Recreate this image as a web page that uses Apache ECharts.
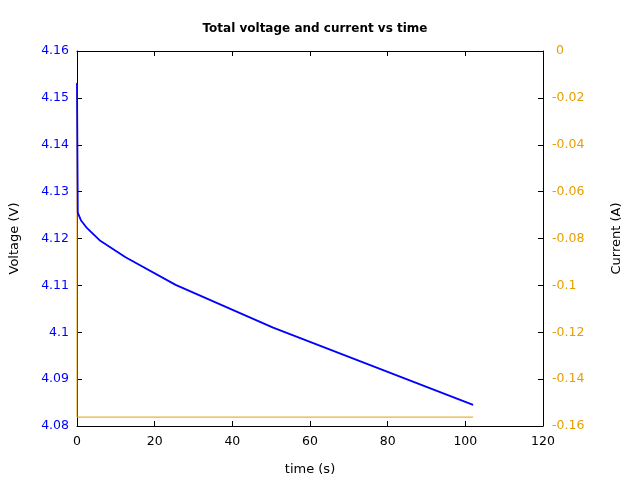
<!DOCTYPE html>
<html><head><meta charset="utf-8">
<script src="https://cdn.jsdelivr.net/npm/echarts@6/dist/echarts.min.js"></script>
<style>html,body{margin:0;padding:0;background:#fff}#c{width:640px;height:480px}</style>
</head><body><div id="c"></div>
<script>
const timeV = [0, 0.2, 1, 2.6, 6, 12.5, 25.4, 50.5, 102];
const voltage = [4.1532, 4.1255, 4.1239, 4.1222, 4.1195, 4.1160, 4.1101, 4.1010, 4.0845];
const timeI = [0, 0, 102];
const current = [-0.0137, -0.1562, -0.1562];
const xTicks = [0, 20, 40, 60, 80, 100, 120];

const font = 'DejaVu Sans';
const tickStyle = {show: true, inside: true, length: 5, lineStyle: {color: '#000', width: 1}};
const lineStyle = {show: true, onZero: false, lineStyle: {color: '#000', width: 1}};
const chart = echarts.init(document.getElementById('c'), null, {renderer: 'canvas'});
chart.setOption({
  animation: false,
  title: {
    text: 'Total voltage and current vs time',
    left: 310, top: 18, textAlign: 'center',
    textStyle: {fontFamily: font, fontSize: 12, fontWeight: 'bold', color: '#000'}
  },
  grid: {left: 77, right: 97, top: 51, bottom: 54, containLabel: false, outerBoundsMode: 'none'},
  xAxis: [{
    type: 'value', position: 'bottom', min: xTicks[0], max: xTicks[xTicks.length - 1], interval: 20,
    name: 'time (s)', nameLocation: 'middle', nameGap: 37,
    nameTextStyle: {fontFamily: font, fontSize: 13, color: '#000'},
    axisLine: lineStyle, axisTick: tickStyle,
    axisLabel: {fontFamily: font, fontSize: 12.5, color: '#000', margin: 9},
    splitLine: {show: false}
  }, {
    type: 'value', position: 'top', min: 0, max: 120, interval: 20,
    axisLine: lineStyle, axisTick: tickStyle,
    axisLabel: {show: false}, splitLine: {show: false}
  }],
  yAxis: [{
    type: 'value', position: 'left', min: 4.08, max: 4.16, interval: 0.01,
    name: 'Voltage (V)', nameLocation: 'middle', nameGap: 56,
    nameTextStyle: {fontFamily: font, fontSize: 13, color: '#000'},
    axisLine: lineStyle, axisTick: tickStyle,
    axisLabel: {fontFamily: font, fontSize: 12.5, color: '#0000ff', margin: 8, padding: [3, 0, 0, 0],
      formatter: v => parseFloat(v.toFixed(2)).toString()},
    splitLine: {show: false}
  }, {
    type: 'value', position: 'right', min: -0.16, max: 0, interval: 0.02,
    name: 'Current (A)', nameLocation: 'middle', nameGap: 67, nameRotate: 90,
    nameTextStyle: {fontFamily: font, fontSize: 13, color: '#000'},
    axisLine: lineStyle, axisTick: tickStyle,
    axisLabel: {fontFamily: font, fontSize: 12.5, color: '#e69f00', margin: 9, padding: [3, 0, 0, 0],
      formatter: v => { const s = parseFloat(v.toFixed(2)).toString(); return v === 0 ? ' 0' : s; }},
    splitLine: {show: false}
  }],
  series: [{
    type: 'line', xAxisIndex: 0, yAxisIndex: 1, symbol: 'none',
    data: timeI.map((t, i) => [t, current[i]]),
    lineStyle: {color: '#e69f00', width: 1}, z: 2
  }, {
    type: 'line', xAxisIndex: 0, yAxisIndex: 0, symbol: 'none',
    data: timeV.map((t, i) => [t, voltage[i]]),
    lineStyle: {color: '#0000ff', width: 1.8}, z: 3
  }]
});
</script></body></html>
